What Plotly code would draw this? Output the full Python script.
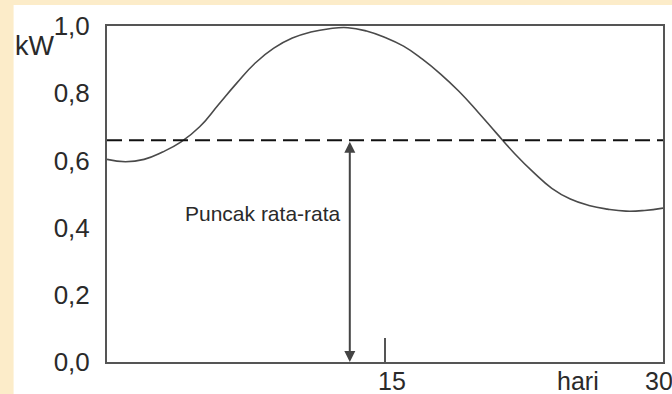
import plotly.graph_objects as go

# ---- data ----
days = list(range(0, 31))
power_kw = [0.603, 0.596, 0.603, 0.625, 0.655, 0.700, 0.765, 0.830, 0.890, 0.934,
            0.964, 0.982, 0.992, 0.995, 0.985, 0.966, 0.940, 0.902, 0.857, 0.805,
            0.745, 0.682, 0.620, 0.565, 0.517, 0.485, 0.466, 0.455, 0.449, 0.451,
            0.458]
avg_peak = 0.66
arrow_day = 13.1
y_tick_vals = [0.0, 0.2, 0.4, 0.6, 0.8, 1.0]
y_tick_text = ["0,0", "0,2", "0,4", "0,6", "0,8", "1,0"]
x_tick_vals = [15, 30]
x_tick_text = ["15", "30"]
x_title = "hari"
y_title = "kW"
arrow_label = "Puncak rata-rata"

FONT = "Liberation Sans, Arial, sans-serif"
TXT = "#2a2a2a"
AX = "#555555"

fig = go.Figure()
fig.add_trace(go.Scatter(x=days, y=power_kw, mode="lines",
                         line=dict(color="#4a4a4a", width=1.6, shape="spline", smoothing=1.3),
                         hoverinfo="skip", showlegend=False))
fig.add_trace(go.Scatter(x=[days[0], days[-1]], y=[avg_peak, avg_peak], mode="lines",
                         line=dict(color="#111111", width=1.8, dash="15px,7px"),
                         hoverinfo="skip", showlegend=False))

# cream frame background, white card
fig.add_shape(type="rect", xref="paper", yref="paper",
              x0=-0.168, x1=1.1, y0=-0.3, y1=1.0625,
              fillcolor="white", line=dict(width=0), layer="below")

# double-headed arrow for average peak
fig.add_annotation(x=arrow_day, y=0, ax=arrow_day, ay=avg_peak, xref="x", yref="y",
                   axref="x", ayref="y", text="", showarrow=True,
                   arrowhead=2, arrowside="end+start", arrowsize=1.1,
                   arrowwidth=2, arrowcolor="#444444", standoff=0, startstandoff=0)
fig.add_annotation(x=12.75, y=0.443, xref="x", yref="y", text=arrow_label,
                   showarrow=False, xanchor="right", yanchor="middle",
                   font=dict(family=FONT, size=21, color=TXT))
fig.add_annotation(x=-0.130, y=0.940, xref="paper", yref="paper", text=y_title,
                   showarrow=False, xanchor="center", yanchor="middle",
                   font=dict(family=FONT, size=27, color=TXT))
fig.add_annotation(x=25.4, y=-0.0565, xref="x", yref="paper", text=x_title,
                   showarrow=False, xanchor="center", yanchor="middle",
                   font=dict(family=FONT, size=25, color=TXT))
# x tick labels (slightly right of their ticks, as in the original)
for v, t in zip(x_tick_vals, x_tick_text):
    fig.add_annotation(x=v + 0.4 if v < 30 else v - 0.2, y=-0.0565, xref="x", yref="paper",
                       text=t, showarrow=False, xanchor="center", yanchor="middle",
                       font=dict(family=FONT, size=25, color=TXT))

fig.update_xaxes(range=[0, 30], showgrid=False, zeroline=False,
                 showline=True, linecolor=AX, linewidth=2, mirror=True,
                 tickvals=x_tick_vals, showticklabels=False,
                 ticks="inside", ticklen=24, tickwidth=1.5, tickcolor=AX)
fig.update_yaxes(range=[0, 1], showgrid=False, zeroline=False,
                 showline=True, linecolor=AX, linewidth=2, mirror=True,
                 tickvals=y_tick_vals, ticktext=y_tick_text, ticks="",
                 ticklabelstandoff=10,
                 tickfont=dict(family=FONT, size=26, color=TXT))

fig.update_layout(width=672, height=394,
                  margin=dict(l=106.5, r=9, t=26, b=32, autoexpand=False),
                  paper_bgcolor="#FCECC9", plot_bgcolor="white",
                  showlegend=False)

fig.write_html("out.html", config={"displayModeBar": False},
               post_script="document.body.style.margin='0';document.body.style.overflow='hidden';")
